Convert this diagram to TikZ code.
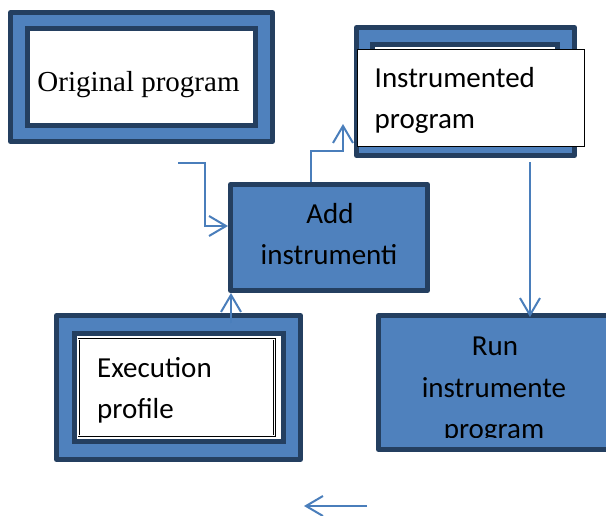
\documentclass[tikz,border=0pt]{standalone}
\usepackage{fontspec}
\setmainfont{Carlito}
\newfontfamily\serifo{Liberation Serif}
\usetikzlibrary{arrows.meta,calc}
\definecolor{boxblue}{HTML}{4F81BD}
\definecolor{boxdark}{HTML}{243F60}
\definecolor{connblue}{HTML}{4A7EBB}
\tikzset{
  outerbox/.style={draw=boxdark,line width=5pt,fill=boxblue,inner sep=0pt,outer sep=2.5pt,line join=round,rectangle},
  framebox/.style={draw=boxdark,line width=5pt,fill=white,inner sep=0pt,outer sep=2.5pt,rectangle},
  thinbox/.style={draw=black,line width=0.8pt,fill=white,inner sep=0pt,outer sep=0pt,rectangle},
  dblbox/.style={draw=black,line width=0.6pt,double=white,double distance=1.3pt,fill=white,inner sep=0pt,rectangle},
  txt/.style={inner sep=0pt,font=\fontsize{29}{35}\selectfont},
  serif/.style={inner sep=0pt,font=\serifo\fontsize{29}{35}\selectfont},
  conn/.style={draw=connblue,line width=2pt,-{Straight Barb[length=17pt,width=20pt]}}
}
\begin{document}
\begin{tikzpicture}[x=1pt,y=-1pt]
\useasboundingbox (0,0) rectangle (606,515);
\clip (0,0) rectangle (606,515);
% Original program
\node[outerbox,minimum width=262pt,minimum height=129pt] (orig) at (141.5,77) {};
\node[framebox,minimum width=228pt,minimum height=97pt] (origin) at (141.5,77) {};
\node[serif,anchor=base] (origt) at (138.5,91) {Original program};
% Instrumented program
\node[outerbox,minimum width=218pt,minimum height=128pt] (instr) at (465.5,91.5) {};
\node[framebox,minimum width=185pt,minimum height=94pt] (instrin) at (465,91.5) {};
\node[thinbox,minimum width=227.2pt,minimum height=97.2pt] (instrw) at (471,98) {};
\node[txt,anchor=base west] (instrt1) at (374.5,87) {Instrumented};
\node[txt,anchor=base west] (instrt2) at (374.5,128) {program};
% Add instrumenti
\node[outerbox,minimum width=197pt,minimum height=106pt] (add) at (329,237.5) {};
\node[txt,anchor=base] (addt1) at (330,223) {Add};
\node[txt,anchor=base] (addt2) at (329,264) {instrumenti};
% Execution profile
\node[outerbox,minimum width=244pt,minimum height=144pt] (exec) at (178.5,387.5) {};
\node[framebox,minimum width=209pt,minimum height=108pt] (execin) at (179,387.5) {};
\node[dblbox,minimum width=195.8pt,minimum height=96.6pt] (execw) at (176.7,387.5) {};
\node[txt,anchor=base west] (exect1) at (97,377) {Execution};
\node[txt,anchor=base west] (exect2) at (97,418) {profile};
% Run instrumented program
\node[outerbox,minimum width=246.5pt,minimum height=134pt] (run) at (501.75,382.5) {};
\begin{scope}
\clip (381,318) rectangle (606,437);
\node[txt,anchor=base] (runt1) at (495,355) {Run};
\node[txt,anchor=base] (runt2) at (494,397) {instrumente};
\node[txt,anchor=base] (runt3) at (494,438.5) {program};
\end{scope}
% connectors
\coordinate (a1s) at (178,163);
\draw[conn] (a1s) -- ++(27,0) |- ($(add.west)+(0,-11.5)$);
\coordinate (a2m) at (343,151);
\coordinate (a2e) at (343,124);
\draw[conn] ($(add.north)+(-18,0)$) |- (a2m) -- (a2e);
\coordinate (a3s) at ($(exec.north)+(52.5,10)$);
\draw[conn] (a3s) -- (a3s |- add.south);
\coordinate (a4s) at ($(instr.south)+(64.5,4)$);
\draw[conn,shorten >=-4pt] (a4s) -- (a4s |- run.north);
\coordinate (a5s) at (367,506);
\coordinate (a5e) at (304,506);
\draw[conn] (a5s) -- (a5e);
\end{tikzpicture}
\end{document}
